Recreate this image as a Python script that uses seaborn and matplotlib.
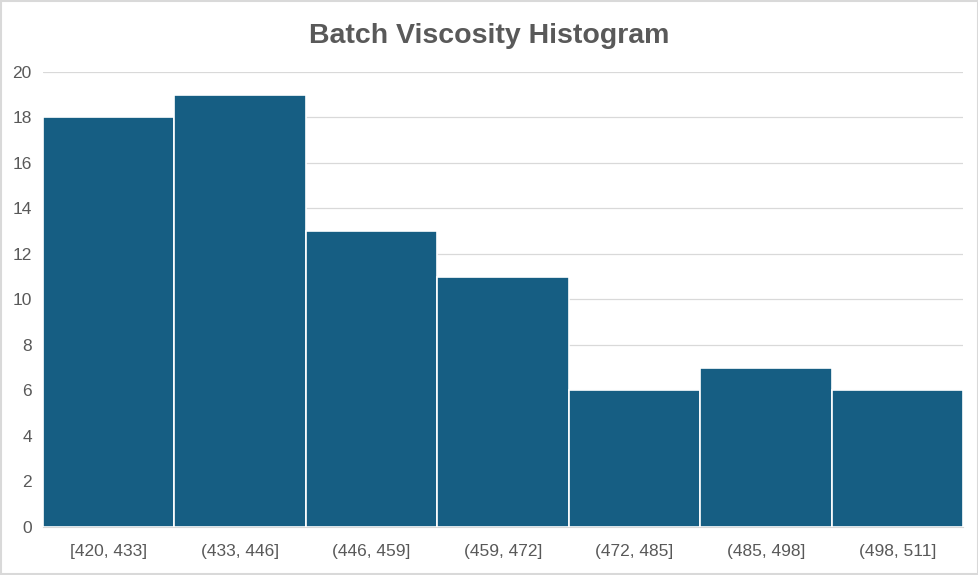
import matplotlib
matplotlib.use("Agg")
import matplotlib.pyplot as plt
import seaborn as sns
import pandas as pd

# bins and counts
bins = ['[420, 433]', '(433, 446]', '(446, 459]', '(459, 472]',
        '(472, 485]', '(485, 498]', '(498, 511]']
counts = [18, 19, 13, 11, 6, 7, 6]
y_ticks = [0, 2, 4, 6, 8, 10, 12, 14, 16, 18, 20]

df = pd.DataFrame({'bin': bins, 'count': counts})

sns.set_style('white')
plt.rcParams['font.family'] = ['Liberation Sans', 'DejaVu Sans']

fig = plt.figure(figsize=(9.79, 5.75), dpi=100)
ax = fig.add_axes([0.0439, 0.0835, 0.9398, 0.7913])

sns.barplot(data=df, x='bin', y='count', color='#165E83', saturation=1,
            width=1.0, edgecolor='white', linewidth=1.2, ax=ax, zorder=3)

ax.set_ylim(0, 20)
ax.set_xlim(-0.5, len(bins) - 0.5)
ax.set_yticks(y_ticks)
ax.yaxis.grid(True, color='#D9D9D9', linewidth=0.9, zorder=0)
ax.set_axisbelow(True)
for side in ['top', 'right', 'left']:
    ax.spines[side].set_visible(False)
ax.spines['bottom'].set_color('#D9D9D9')
ax.tick_params(axis='both', length=0, labelsize=12.5, labelcolor='#595959')
ax.tick_params(axis='x', pad=12)
ax.tick_params(axis='y', pad=8)
ax.set_xlabel('')
ax.set_ylabel('')

fig.text(0.5, 0.938, 'Batch Viscosity Histogram', ha='center', va='center',
         fontsize=20.5, fontweight='bold', color='#595959',
         family=['Liberation Sans Narrow', 'Liberation Sans', 'DejaVu Sans'])

# thin light border around the whole chart
fig.patches.append(plt.Rectangle((0.001, 0.001), 0.998, 0.997, transform=fig.transFigure,
                                 fill=False, edgecolor='#D9D9D9', linewidth=1.5))

fig.savefig('out.png', dpi=100)
